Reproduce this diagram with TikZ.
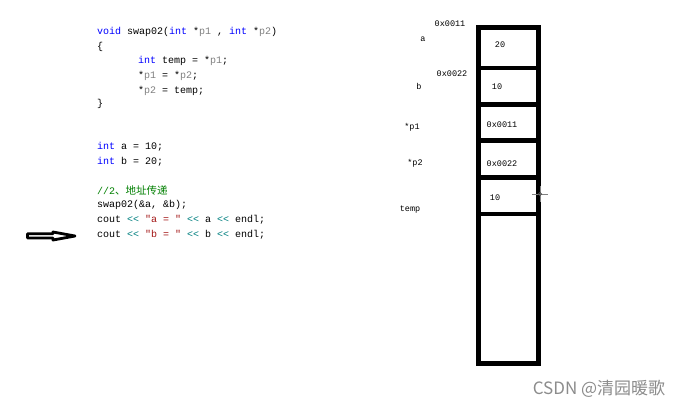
\documentclass[tikz,border=0pt]{standalone}
\usepackage{fontspec}
\setmonofont{Liberation Mono}
\newfontfamily\cjkfont{Noto Sans CJK SC}
\usetikzlibrary{positioning}
\definecolor{kwblue}{RGB}{0,0,255}
\definecolor{pargray}{RGB}{128,128,128}
\definecolor{opteal}{RGB}{0,128,128}
\definecolor{strred}{RGB}{163,21,21}
\definecolor{cmtgreen}{RGB}{0,128,0}
\newcommand\ckw[1]{\textcolor{kwblue}{#1}}
\newcommand\cpar[1]{\textcolor{pargray}{#1}}
\newcommand\cop[1]{\textcolor{opteal}{#1}}
\newcommand\cstr[1]{\textcolor{strred}{#1}}

\begin{document}
\begin{tikzpicture}[x=1bp,y=-1bp,
    code/.style={anchor=west,inner sep=0pt,font=\ttfamily\fontsize{10bp}{12bp}\selectfont},
    lbl/.style={inner sep=0pt,font=\ttfamily\fontsize{8.5bp}{10bp}\selectfont},
    mem/.style={line width=4.5bp}]
    \useasboundingbox[fill=white] (0,0) rectangle (683,409);

    % Codice
    \node[code] (sig)  at (97,32)  {\ckw{void} swap02(\ckw{int} *\cpar{p1} , \ckw{int} *\cpar{p2})};
    \node[code] (open) at (97,47)  {\{};
    \node[code] (tmp)  at (138,61) {\ckw{int} temp = *\cpar{p1};};
    \node[code] (asg1) at (138,76) {*\cpar{p1} = *\cpar{p2};};
    \node[code] (asg2) at (138,91) {*\cpar{p2} = temp;};
    \node[code] (close) at (97,104) {\}};
    \node[code] (inta) at (97,147) {\ckw{int} a = 10;};
    \node[code] (intb) at (97,162) {\ckw{int} b = 20;};
    \node[code, text=cmtgreen] (cmt) at (97,190) {//2{\cjkfont\fontsize{10.5bp}{12bp}\selectfont 、地址传递}};
    \node[code] (call) at (97,205) {swap02(\&a, \&b);};
    \node[code] (outa) at (97,220) {cout \cop{<<} \cstr{"a = "} \cop{<<} a \cop{<<} endl;};
    \node[code] (outb) at (97,235) {cout \cop{<<} \cstr{"b = "} \cop{<<} b \cop{<<} endl;};

    % Freccia vuota
    \draw[line width=2.8bp, line join=round] (27.5,233.8) -- (53,233.8) -- (53,232) -- (75,236)
        -- (53,240) -- (53,238) -- (27.5,238) -- cycle;

    % Memoria
    \draw[mem] (478.5,27.5) rectangle (538.5,363.5);
    \foreach \yy in {68,104.5,140.5,177.5,214}
        \draw[mem] (478.5,\yy) -- (538.5,\yy);

    \node[lbl] (va)   at (500,45)  {20};
    \node[lbl] (vb)   at (497,87)  {10};
    \node[lbl] (vp1)  at (502,125) {0x0011};
    \node[lbl] (vp2)  at (502,164) {0x0022};
    \node[lbl] (vtmp) at (495,198) {10};

    \node[lbl] (addra) at (450,24)  {0x0011};
    \node[lbl] (na)    at (423,39)  {a};
    \node[lbl] (addrb) at (452,74)  {0x0022};
    \node[lbl] (nb)    at (419,86)  {b};
    \node[lbl] (np1)   at (412,127) {*p1};
    \node[lbl] (np2)   at (415,163) {*p2};
    \node[lbl] (ntmp)  at (410,210) {temp};

    % Cursore
    \draw[gray, line width=1bp] (532,194) -- (548,194) (540,186) -- (540,202);
    \draw[gray!60!black, line width=0.8bp] (540,194) circle (1.6);

    \node[inner sep=0pt, text=black!45, font=\cjkfont\fontsize{17bp}{20bp}\selectfont] (wm) at (599,389) {CSDN @清园暖歌};
\end{tikzpicture}
\end{document}
